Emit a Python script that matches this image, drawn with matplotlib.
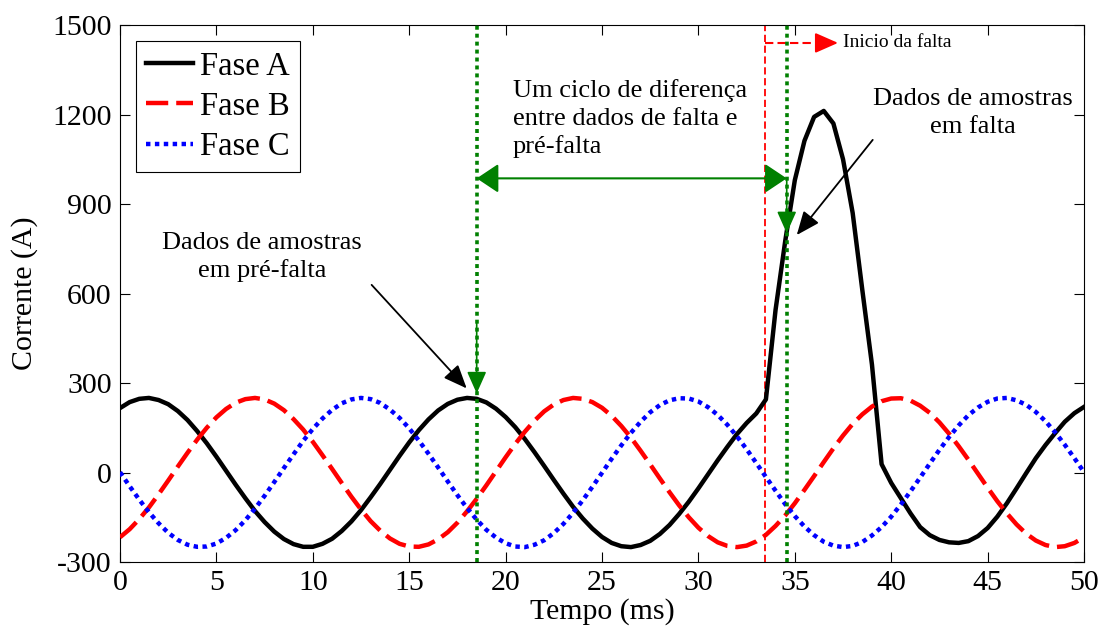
import numpy as np
import matplotlib.pyplot as plt
from matplotlib.lines import Line2D

plt.rcParams['font.family'] = 'Liberation Serif'
plt.rcParams['axes.unicode_minus'] = False

# amostras a cada 0.5 ms
tempo = np.linspace(0, 50, 101)

fase_a = [216, 236, 247, 250, 243, 229, 206, 176, 139, 98,
          53, 6, -41, -86, -129, -166, -198, -223, -240, -249,
          -249, -239, -222, -196, -164, -126, -83, -38, 9, 56,
          101, 142, 178, 208, 230, 244, 250, 247, 235, 214,
          186, 152, 112, 68, 22, -25, -71, -115, -154, -188,
          -216, -236, -247, -250, -243, -229, -206, -176, -139, -98,
          -53, -6, 41, 86, 129, 166, 198, 245, 545, 775,
          980, 1112, 1192, 1212, 1170, 1050, 870, 612, 362, 28,
          -35, -86, -137, -183, -210, -226, -234, -236, -230, -213,
          -186, -148, -103, -53, -2, 48, 92, 132, 170, 199,
          220]

fase_b = [-217, -190, -156, -117, -73, -27, 20, 66, 110, 150,
          185, 213, 234, 246, 250, 245, 231, 209, 179, 144,
          103, 58, 12, -35, -81, -124, -163, -195, -221, -239,
          -248, -249, -241, -224, -200, -168, -130, -88, -43, 4,
          51, 96, 137, 174, 205, 228, 243, 250, 247, 236,
          217, 190, 156, 117, 73, 27, -20, -66, -110, -150,
          -185, -213, -234, -246, -250, -245, -231, -209, -179, -144,
          -103, -58, -12, 35, 81, 124, 163, 195, 221, 239,
          248, 249, 241, 224, 200, 168, 130, 88, 43, -4,
          -51, -96, -137, -174, -205, -228, -243, -250, -247, -236,
          -217]

fase_c = [1, -46, -91, -133, -170, -202, -226, -242, -249, -248,
          -238, -219, -193, -160, -121, -78, -32, 15, 61, 106,
          146, 181, 210, 232, 245, 250, 246, 233, 211, 183,
          148, 107, 63, 17, -30, -76, -119, -158, -192, -218,
          -237, -248, -250, -242, -227, -203, -172, -135, -93, -48,
          -1, 46, 91, 133, 170, 202, 226, 242, 249, 248,
          238, 219, 193, 160, 121, 78, 32, -15, -61, -106,
          -146, -181, -210, -232, -245, -250, -246, -233, -211, -183,
          -148, -107, -63, -17, 30, 76, 119, 158, 192, 218,
          237, 248, 250, 242, 227, 203, 172, 135, 93, 48,
          1]

inicio_falta = 33.45
marca_pre = 18.5
marca_falta = 34.58
nivel_ciclo = 986
amostra_pre = 265
amostra_falta = 802

verde = '#008000'

fig = plt.figure(figsize=(11.02, 6.3), dpi=100)
ax = fig.add_axes([0.1089, 0.1079, 0.8748, 0.8524])

ax.plot(tempo, fase_a, color='black', lw=3.2, zorder=3)
ax.plot(tempo, fase_b, color='red', lw=3.2, ls=(0, (5, 1.8)), zorder=3)
ax.plot(tempo, fase_c, color='blue', lw=3.2, ls=(0, (1, 1)), zorder=3)

# inicio da falta
ax.axvline(inicio_falta, color='red', lw=1.3, ls=(0, (4, 2)), zorder=2)
ax.plot([inicio_falta, 36.6], [1440, 1440], color='red', lw=1.5, ls=(0, (4, 2)))
ax.annotate('', xy=(37.24, 1440), xytext=(36.4, 1440),
            arrowprops=dict(arrowstyle='-|>,head_length=0.5,head_width=0.22',
                            color='red', lw=1.5, mutation_scale=28,
                            shrinkA=0, shrinkB=0))
ax.text(37.5, 1440, 'Inicio da falta', fontsize=14, ha='left', va='center')

# janelas de um ciclo
for t in (marca_pre, marca_falta):
    ax.axvline(t, color=verde, lw=2.6, ls=(0, (1.1, 1.1)), zorder=5)

ax.annotate('', xy=(marca_pre, nivel_ciclo), xytext=(marca_falta, nivel_ciclo),
            arrowprops=dict(arrowstyle='<|-|>,head_length=0.45,head_width=0.3',
                            color=verde, lw=1.5, mutation_scale=30,
                            shrinkA=0, shrinkB=0), zorder=6)
ax.annotate('', xy=(marca_pre, amostra_pre), xytext=(marca_pre, 500),
            arrowprops=dict(arrowstyle='-|>,head_length=0.45,head_width=0.2',
                            color=verde, lw=1.2, mutation_scale=30,
                            shrinkA=0, shrinkB=0), zorder=6)
ax.annotate('', xy=(marca_falta, amostra_falta), xytext=(marca_falta, nivel_ciclo),
            arrowprops=dict(arrowstyle='-|>,head_length=0.45,head_width=0.2',
                            color=verde, lw=1.2, mutation_scale=30,
                            shrinkA=0, shrinkB=0), zorder=6)

ax.text(20.38, 1318, 'Um ciclo de diferença\nentre dados de falta e\npré-falta',
        fontsize=19, ha='left', va='top', linespacing=1.32)

ax.text(7.35, 722, 'Dados de amostras\nem pré-falta', fontsize=19,
        ha='center', va='center', linespacing=1.32)
ax.text(44.26, 1205, 'Dados de amostras\nem falta', fontsize=19,
        ha='center', va='center', linespacing=1.32)

seta_preta = dict(arrowstyle='-|>,head_length=0.6,head_width=0.25',
                  color='black', lw=1.3, mutation_scale=24,
                  shrinkA=0, shrinkB=0)
ax.annotate('', xy=(17.98, 282), xytext=(13.05, 629), arrowprops=seta_preta)
ax.annotate('', xy=(35.1, 796), xytext=(39.04, 1115), arrowprops=seta_preta)

ax.set_xlim(0, 50)
ax.set_ylim(-300, 1500)
ax.set_xticks(range(0, 51, 5))
ax.set_yticks(range(-300, 1501, 300))
ax.tick_params(direction='in', top=True, right=True, length=7, width=0.8,
               labelsize=21.5, pad=6)
for s in ax.spines.values():
    s.set_linewidth(0.8)

ax.set_xlabel('Tempo (ms)', fontsize=21.5, labelpad=1)
ax.set_ylabel('Corrente (A)', fontsize=21.5, labelpad=10)

handles = [Line2D([], [], color='black', lw=3.2),
           Line2D([], [], color='red', lw=3.2, ls=(0, (5, 1.8))),
           Line2D([], [], color='blue', lw=3.2, ls=(0, (1, 1)))]
leg = ax.legend(handles, ['Fase A', 'Fase B', 'Fase C'], loc='upper left',
                fontsize=23.5, fancybox=False, framealpha=1, edgecolor='black',
                borderaxespad=0.5, handlelength=1.45, handletextpad=0.2,
                labelspacing=0.3, borderpad=0.3)
leg.get_frame().set_linewidth(0.8)

fig.savefig('out.png', dpi=100)
